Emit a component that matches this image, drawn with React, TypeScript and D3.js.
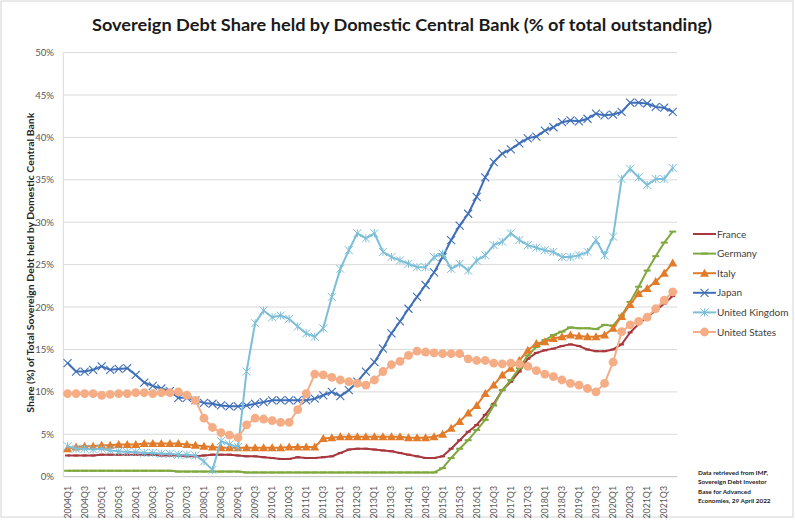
import React from 'react';
import * as d3 from 'd3';

const W = 795;
const H = 523;

const years = d3.range(2004, 2022);
const quarters: string[] = years.flatMap((yr) => [1, 2, 3, 4].map((q) => `${yr}Q${q}`));
const yTicks = [0, 5, 10, 15, 20, 25, 30, 35, 40, 45, 50];

const france = [2.5,2.5,2.5,2.5,2.6,2.6,2.6,2.6,2.6,2.6, 2.6,2.5,2.5,2.5,2.4,2.4,2.5,2.6,2.6,2.6, 2.5,2.4,2.4,2.3,2.2,2.1,2.1,2.3,2.2,2.2, 2.3,2.4,2.8,3.2,3.3,3.3,3.2,3.1,3.0,2.8, 2.6,2.4,2.2,2.2,2.4,3.3,4.3,5.3,6.1,7.3, 8.6,10.2,11.2,12.4,13.9,14.6,14.9,15.1,15.4,15.6, 15.4,15.0,14.8,14.8,15.0,15.6,17.0,18.0,18.8,19.6, 20.4,21.3];
const germany = [0.7,0.7,0.7,0.7,0.7,0.7,0.7,0.7,0.7,0.7, 0.7,0.7,0.7,0.6,0.6,0.6,0.6,0.6,0.6,0.6, 0.6,0.5,0.5,0.5,0.5,0.5,0.5,0.5,0.5,0.5, 0.5,0.5,0.5,0.5,0.5,0.5,0.5,0.5,0.5,0.5, 0.5,0.5,0.5,0.5,1.0,2.2,3.3,4.3,5.5,6.7, 8.4,10.2,11.4,12.8,14.3,15.3,16.1,16.7,17.1,17.6, 17.5,17.5,17.4,17.9,17.8,19.0,20.6,22.4,24.3,26.0, 27.6,28.9];
const italy = [3.3,3.5,3.6,3.6,3.7,3.7,3.8,3.8,3.8,3.9, 3.9,3.9,3.9,3.9,3.8,3.7,3.6,3.5,3.4,3.4, 3.4,3.4,3.4,3.4,3.4,3.4,3.5,3.5,3.5,3.5, 4.5,4.6,4.7,4.7,4.7,4.7,4.7,4.7,4.7,4.7, 4.6,4.6,4.6,4.7,5.0,5.7,6.5,7.5,8.4,9.8, 10.8,12.0,12.8,13.7,14.9,15.7,15.9,16.3,16.5,16.7, 16.6,16.5,16.5,16.7,17.5,18.9,20.3,21.6,22.2,23.0, 24.0,25.2];
const japan = [13.4,12.4,12.4,12.6,13.0,12.6,12.7,12.8,12.0,11.1, 10.7,10.4,10.1,9.3,9.3,9.0,8.7,8.6,8.4,8.3, 8.3,8.4,8.6,8.8,9.0,9.0,9.0,9.0,9.0,9.2, 9.6,10.0,9.5,10.2,11.2,12.4,13.5,15.1,16.9,18.3, 19.8,21.2,22.6,24.1,25.9,27.9,29.6,31.0,33.0,35.3, 37.1,38.1,38.6,39.3,39.9,40.1,40.8,41.2,41.8,42.0, 41.9,42.2,42.8,42.6,42.7,43.0,44.1,44.1,44.0,43.6, 43.5,43.0];
const uk = [3.6,3.3,3.3,3.2,3.3,3.1,3.0,2.9,2.9,2.8, 2.8,2.7,2.7,2.6,2.6,2.5,1.8,0.8,4.2,3.8, 3.5,12.4,18.1,19.6,18.8,19.0,18.6,17.7,16.9,16.5, 17.5,21.2,24.5,26.7,28.7,28.1,28.7,26.5,25.9,25.5, 25.1,24.7,24.7,25.9,26.3,24.5,25.1,24.3,25.5,26.1, 27.3,27.7,28.7,27.9,27.3,27.0,26.7,26.5,25.9,25.9, 26.1,26.5,27.9,26.1,28.3,35.1,36.3,35.3,34.4,35.1, 35.1,36.4];
const us = [9.8,9.8,9.8,9.8,9.6,9.7,9.8,9.8,9.9,9.9, 9.8,9.9,9.9,10.0,9.6,9.0,6.9,5.8,5.2,4.9, 4.6,6.1,6.9,6.8,6.6,6.4,6.4,7.9,9.8,12.1, 12.0,11.7,11.4,11.2,11.0,10.8,11.4,12.4,13.2,13.6, 14.3,14.8,14.7,14.6,14.5,14.5,14.5,13.9,13.7,13.7, 13.4,13.3,13.4,13.3,13.0,12.5,12.1,11.8,11.4,11.0, 10.8,10.4,10.0,11.0,13.5,17.1,17.9,18.3,18.8,19.8, 20.8,21.8];

type Marker = 'dashSmall' | 'dash' | 'triangle' | 'x' | 'star' | 'circle';
const seriesList: { name: string; values: number[]; color: string; marker: Marker }[] = [
  { name: 'France', values: france, color: '#a8383d', marker: 'dashSmall' },
  { name: 'Germany', values: germany, color: '#7fa83f', marker: 'dash' },
  { name: 'Italy', values: italy, color: '#e27c2a', marker: 'triangle' },
  { name: 'Japan', values: japan, color: '#3f6fb8', marker: 'x' },
  { name: 'United Kingdom', values: uk, color: '#7dbfd8', marker: 'star' },
  { name: 'United States', values: us, color: '#f5ad86', marker: 'circle' },
];

const noteLines = ['Data retrieved from IMF,', 'Sovereign Debt Investor', 'Base for Advanced', 'Economies, 29 April 2022'];

const FONT = 'Lato, "Open Sans", "DejaVu Sans", sans-serif';

function renderMarker(type: Marker, cx: number, cy: number, color: string, key: string) {
  switch (type) {
    case 'dashSmall':
      return <rect key={key} x={cx - 2.5} y={cy - 1} width={5} height={2} fill={color} />;
    case 'dash':
      return <rect key={key} x={cx - 3.5} y={cy - 1} width={7} height={2} fill={color} />;
    case 'triangle':
      return <path key={key} d={`M${cx},${cy - 4.5}L${cx + 4.5},${cy + 3.5}L${cx - 4.5},${cy + 3.5}Z`} fill={color} />;
    case 'x':
      return (
        <path key={key} d={`M${cx - 4},${cy - 4}L${cx + 4},${cy + 4}M${cx - 4},${cy + 4}L${cx + 4},${cy - 4}`} stroke={color} strokeWidth={1.1} fill="none" />
      );
    case 'star':
      return (
        <path key={key} d={`M${cx - 4},${cy - 4}L${cx + 4},${cy + 4}M${cx - 4},${cy + 4}L${cx + 4},${cy - 4}M${cx},${cy - 4}L${cx},${cy + 4}`} stroke={color} strokeWidth={1} fill="none" />
      );
    case 'circle':
    default:
      return <circle key={key} cx={cx} cy={cy} r={4.4} fill={color} />;
  }
}

export default function App() {
  const left = 63.3;
  const right = 677;
  const top = 52.6;
  const bottom = 476.7;

  const x = d3.scaleBand<string>().domain(quarters).range([left, right]).padding(0);
  const y = d3.scaleLinear().domain([0, 50]).range([bottom, top]);
  const cx = (i: number) => (x(quarters[i]) as number) + x.bandwidth() / 2;
  const line = d3
    .line<number>()
    .x((_d, i) => cx(i))
    .y((d) => y(d));

  const legendX1 = 693;
  const legendX2 = 716;
  const legendY0 = 234;
  const legendStep = 19.6;

  return (
    <svg width={W} height={H} style={{ position: 'absolute', left: 0, top: 0, background: '#fff' }} fontFamily={FONT}>
      <rect x={0} y={0} width={W} height={H} fill="#fff" />
      <rect x={1} y={1} width={792} height={516} fill="none" stroke="#d4d4d4" strokeWidth={1} />

      <text x={402} y={31} textAnchor="middle" fontSize={17.5} fontWeight="bold" fill="#1a1a1a" textLength={620} lengthAdjust="spacingAndGlyphs">
        Sovereign Debt Share held by Domestic Central Bank (% of total outstanding)
      </text>

      {/* gridlines */}
      {yTicks.map((t) => (
        <line key={`g${t}`} x1={left} x2={right} y1={y(t)} y2={y(t)} stroke={t === 0 ? '#bfbfbf' : '#d9d9d9'} strokeWidth={1} />
      ))}
      <line x1={left} x2={left} y1={top} y2={bottom} stroke="#d9d9d9" strokeWidth={1} />

      {/* y tick labels */}
      {yTicks.map((t) => (
        <text key={`yt${t}`} x={54} y={y(t) + 3.5} textAnchor="end" fontSize={9.6} fill="#595959">
          {`${t}%`}
        </text>
      ))}

      {/* y title */}
      <text transform={`translate(33.5,${(top + bottom) / 2 - 2}) rotate(-90)`} textAnchor="middle" fontSize={9.8} fontWeight="bold" fill="#262626" textLength={300} lengthAdjust="spacingAndGlyphs">
        Share (%) of Total Sovereign Debt held by Domestic Central Bank
      </text>

      {/* x labels */}
      {quarters.map((q, i) =>
        i % 2 === 0 ? (
          <text key={`xl${q}`} transform={`translate(${cx(i) + 3},486) rotate(-90)`} textAnchor="end" fontSize={8.8} fill="#595959">
            {q}
          </text>
        ) : null
      )}

      {/* series */}
      {seriesList.map((s) => (
        <g key={s.name}>
          <path d={line(s.values) || ''} fill="none" stroke={s.color} strokeWidth={2} strokeLinejoin="round" />
          {s.values.map((v, i) => renderMarker(s.marker, cx(i), y(v), s.color, `${s.name}-${i}`))}
        </g>
      ))}

      {/* legend */}
      {seriesList.map((s, k) => {
        const ly = legendY0 + k * legendStep;
        return (
          <g key={`lg${s.name}`}>
            <line x1={legendX1} x2={legendX2} y1={ly} y2={ly} stroke={s.color} strokeWidth={2} />
            {renderMarker(s.marker, (legendX1 + legendX2) / 2, ly, s.color, `lm${s.name}`)}
            <text x={legendX2 + 1} y={ly + 3.6} fontSize={10} fill="#404040">
              {s.name}
            </text>
          </g>
        );
      })}

      {/* note */}
      {noteLines.map((t, k) => (
        <text key={`n${k}`} x={698} y={475 + k * 9.4} fontSize={6.4} fontWeight="bold" fill="#1a1a1a">
          {t}
        </text>
      ))}
    </svg>
  );
}
